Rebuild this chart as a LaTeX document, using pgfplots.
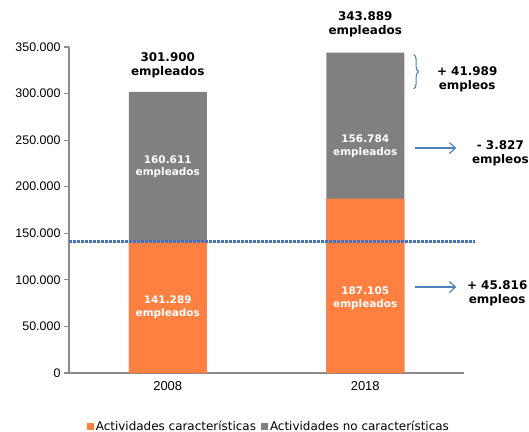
\documentclass[border=0pt]{standalone}
\usepackage{fontspec}
\setmainfont{DejaVu Sans}
\newfontfamily\arial{Liberation Sans}
\usepackage{pgfplots}
\pgfplotsset{compat=1.18}
\usetikzlibrary{arrows.meta,decorations.pathreplacing}
\definecolor{orng}{HTML}{FF8040}
\definecolor{gry}{HTML}{808080}
\definecolor{axgray}{HTML}{8C8C8C}
\definecolor{dotblue}{HTML}{4472C4}
\definecolor{arrblue}{HTML}{4F81BD}
\begin{document}
\begin{tikzpicture}
\useasboundingbox (-69bp,-59bp) rectangle (460bp,373bp);
\begin{axis}[
  scale only axis,
  width=395bp, height=326bp,
  xmin=-0.5, xmax=1.5,
  ymin=0, ymax=350000,
  clip=false,
  axis x line=bottom, axis y line=left,
  axis line style={draw=axgray, line width=1.4bp, -},
  xtick={0,1}, xticklabels={2008,2018},
  xtick style={draw=none},
  extra x ticks={-0.5,0.5,1.5},
  extra x tick labels={},
  extra x tick style={tick align=outside, major tick length=5bp, tick style={draw=axgray, line width=1.2bp}},
  ytick={0,50000,100000,150000,200000,250000,300000,350000},
  ytick style={draw=axgray, line width=1.2bp},
  tick align=outside, major tick length=5bp,
  /pgf/number format/assume math mode=true,
  /pgf/number format/fixed,
  /pgf/number format/1000 sep={.},
  scaled y ticks=false,
  yticklabel style={font=\arial\fontsize{12.5}{14}\selectfont, text=black},
  xticklabel style={font=\arial\fontsize{13}{15}\selectfont, text=black},
  legend style={at={(0.506,-0.163)}, anchor=center, draw=none, legend columns=2,
    font=\fontsize{12}{14}\selectfont, inner sep=0pt,
    /tikz/every even column/.append style={column sep=3bp}},
  legend image code/.code={\fill[#1] (0bp,-3.5bp) rectangle (7bp,3.5bp);},
]
% totals (grey) drawn first, orange on top
\addplot[ybar, bar width=78bp, bar shift=0pt, fill=gry, draw=none, forget plot] coordinates {(0,301900) (1,343889)};
\addplot[ybar, bar width=78bp, bar shift=0pt, fill=orng, draw=none] coordinates {(0,141289) (1,187105)};
\addlegendentry{Actividades características}
\addlegendimage{ybar, fill=gry, draw=none}
\addlegendentry{Actividades no características}

\addplot[draw=dotblue, line width=3bp, dash pattern=on 2.6bp off 1.4bp, forget plot] coordinates {(-0.5,141289) (1.555,141289)};

% labels
\node[font=\bfseries\fontsize{12}{14}\selectfont, align=center] at (axis cs:0,330500) {301.900\\empleados};
\node[font=\bfseries\fontsize{12}{14}\selectfont, align=center] at (axis cs:1,374700) {343.889\\empleados};
\node[font=\bfseries\fontsize{10.5}{12.5}\selectfont, align=center, text=white] at (axis cs:0,221600) {160.611\\empleados};
\node[font=\bfseries\fontsize{10.5}{12.5}\selectfont, align=center, text=white] at (axis cs:0,70600) {141.289\\empleados};
\node[font=\bfseries\fontsize{10.5}{12.5}\selectfont, align=center, text=white] at (axis cs:1,243700) {156.784\\empleados};
\node[font=\bfseries\fontsize{10.5}{12.5}\selectfont, align=center, text=white] at (axis cs:1,80500) {187.105\\empleados};

% annotations right
\draw[arrblue, line width=1.1bp, decorate, decoration={brace, amplitude=5bp}] (axis cs:1.245,342000) -- (axis cs:1.245,305000);
\node[font=\bfseries\fontsize{12}{14}\selectfont, align=center] at (axis cs:1.516,315600) {+ 41.989\\empleos};
\draw[arrblue, line width=1.2bp, -{Straight Barb[length=6bp,width=11bp]}] (axis cs:1.253,241500) -- (axis cs:1.461,241500);
\node[font=\bfseries\fontsize{12}{14}\selectfont, align=center] at (axis cs:1.684,236000) {- 3.827\\empleos};
\draw[arrblue, line width=1.2bp, -{Straight Barb[length=6bp,width=11bp]}] (axis cs:1.253,92300) -- (axis cs:1.461,92300);
\node[font=\bfseries\fontsize{12}{14}\selectfont, align=center] at (axis cs:1.668,86000) {+ 45.816\\empleos};
\end{axis}
\end{tikzpicture}
\end{document}
